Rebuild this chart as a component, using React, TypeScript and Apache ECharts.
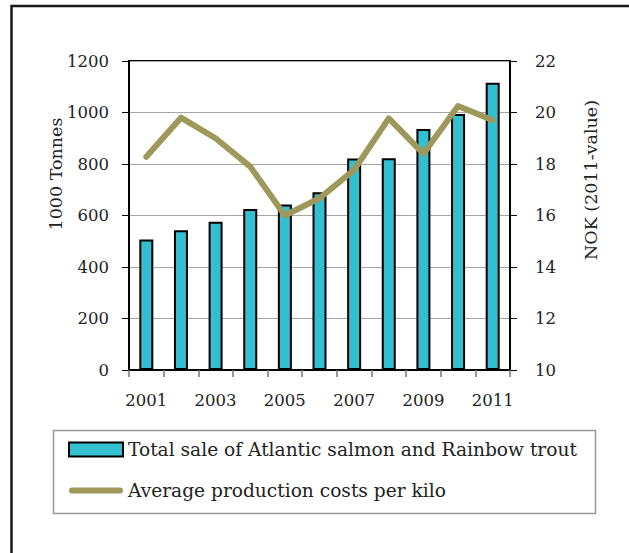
import React, { useEffect, useRef } from "react";
import * as echarts from "echarts";

const years = ["2001", "2002", "2003", "2004", "2005", "2006", "2007", "2008", "2009", "2010", "2011"];
const salesTonnes = [507, 543, 576, 625, 643, 690, 821, 822, 936, 994, 1116];
const costPerKilo = [18.28, 19.8, 19.0, 17.9, 16.0, 16.67, 17.77, 19.77, 18.4, 20.25, 19.7];
const leftTitle = "1000 Tonnes";
const rightTitle = "NOK (2011-value)";
const barName = "Total sale of Atlantic salmon and Rainbow trout";
const lineName = "Average production costs per kilo";

const FONT = "DejaVu Serif";
const LINE_COLOR = "#9e985a";

export default function App() {
  const ref = useRef<HTMLDivElement>(null);
  useEffect(() => {
    if (!ref.current) return;
    const chart = echarts.init(ref.current, undefined, { renderer: "svg" });
    const labelStyle = { fontFamily: FONT, fontSize: 16.5, color: "#222" };
    chart.setOption({
      animation: false,
      backgroundColor: "#fff",
      grid: {
        left: 129,
        top: 61,
        width: 381,
        height: 309,
        show: true,
        borderColor: "#000",
        borderWidth: 2,
        containLabel: false,
      },
      xAxis: {
        type: "category",
        data: years,
        boundaryGap: true,
        axisLine: { show: true, lineStyle: { color: "#000", width: 2 } },
        axisTick: { show: true, interval: 0, length: 7, lineStyle: { color: "#777", width: 1.5 } },
        axisLabel: { ...labelStyle, interval: 1, margin: 22 },
        splitLine: { show: false },
      },
      yAxis: [
        {
          type: "value",
          min: 0,
          max: 1200,
          interval: 200,
          axisLine: { show: true, lineStyle: { color: "#000", width: 2 } },
          axisTick: { show: true, length: 7, lineStyle: { color: "#000", width: 1 } },
          axisLabel: { ...labelStyle, margin: 20, formatter: (v: number) => String(v) },
          splitLine: { show: true, lineStyle: { color: "#a6a6a6", width: 1.2 } },
        },
        {
          type: "value",
          position: "right",
          min: 10,
          max: 22,
          interval: 2,
          axisLine: { show: true, lineStyle: { color: "#000", width: 2 } },
          axisTick: { show: true, length: 7, lineStyle: { color: "#000", width: 1 } },
          axisLabel: { ...labelStyle, margin: 25, formatter: (v: number) => String(v) },
          splitLine: { show: false },
        },
      ],
      legend: {
        left: 68,
        top: 440,
        orient: "vertical",
        itemWidth: 54,
        itemHeight: 14,
        itemGap: 22,
        padding: 0,
        textStyle: { fontFamily: FONT, fontSize: 18.6, color: "#222" },
        data: [
          { name: barName, icon: "rect" },
          {
            name: lineName,
            icon: "path://M3,0 L51,0 A3,3 0 0 1 51,6 L3,6 A3,3 0 0 1 3,0 Z",
            itemStyle: { color: LINE_COLOR, borderWidth: 0 },
          },
        ],
      },
      graphic: [
        {
          type: "rect",
          shape: { x: 11.5, y: 6, width: 700, height: 700 },
          style: { fill: "none", stroke: "#1a1a1a", lineWidth: 2.5 },
          silent: true,
        },
        {
          type: "rect",
          shape: { x: 53.5, y: 430.5, width: 542, height: 83 },
          style: { fill: "none", stroke: "#999", lineWidth: 1.5 },
          silent: true,
          z: -1,
        },
        {
          type: "text",
          x: 56,
          y: 174,
          rotation: Math.PI / 2,
          style: {
            text: leftTitle,
            fontFamily: FONT,
            fontSize: 17.5,
            fill: "#222",
            textAlign: "center",
            textVerticalAlign: "middle",
          },
        },
        {
          type: "text",
          x: 591,
          y: 180,
          rotation: Math.PI / 2,
          style: {
            text: rightTitle,
            fontFamily: FONT,
            fontSize: 17.5,
            fill: "#222",
            textAlign: "center",
            textVerticalAlign: "middle",
          },
        },
      ],
      series: [
        {
          name: barName,
          type: "bar",
          data: salesTonnes,
          yAxisIndex: 0,
          barWidth: 14,
          itemStyle: { color: "#33bfd0", borderColor: "#000", borderWidth: 2 },
          z: 2,
        },
        {
          name: lineName,
          type: "line",
          data: costPerKilo,
          yAxisIndex: 1,
          symbol: "none",
          lineStyle: { color: LINE_COLOR, width: 6, cap: "round", join: "round" },
          itemStyle: { color: LINE_COLOR },
          z: 3,
        },
      ],
    });
    return () => chart.dispose();
  }, []);
  return (
    <div
      ref={ref}
      style={{ position: "absolute", left: 0, top: 0, width: 629, height: 553 }}
    />
  );
}
